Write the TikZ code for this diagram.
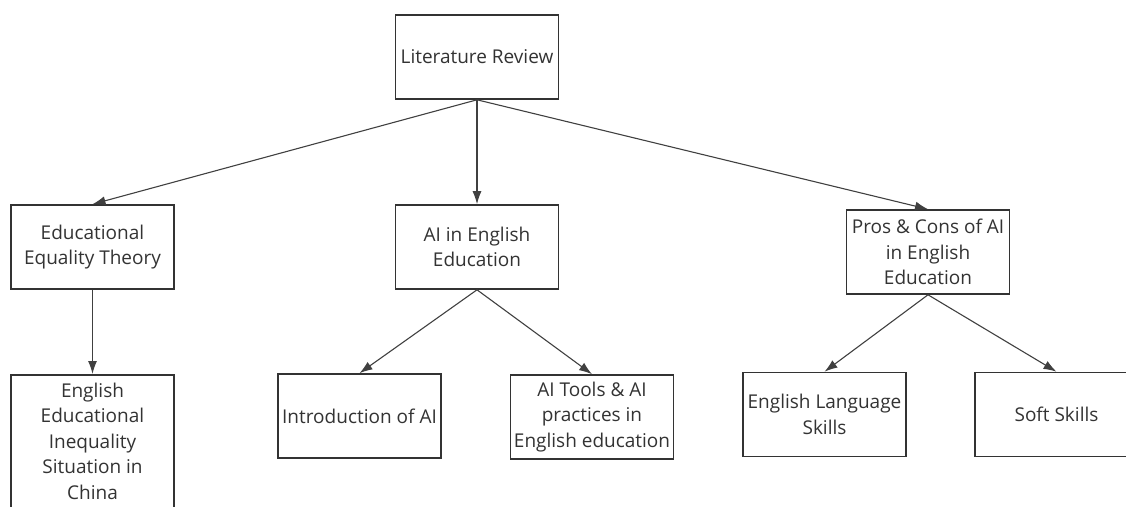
\documentclass[tikz,border=0pt]{standalone}
\usepackage{fontspec}
\setmainfont{Open Sans}
\usetikzlibrary{arrows,arrows.meta,shapes.geometric}

\begin{document}
\begin{tikzpicture}[x=1pt,y=-1pt]
\tikzstyle{block} = [rectangle, draw=black!80, line width=1.6pt, fill=white,
text=black!80, align=center, minimum width=163pt, minimum height=84pt,
font=\fontsize{19}{25.5}\selectfont]
\tikzstyle{line} = [draw, black!75, line width=1.1pt, -{Latex[length=13pt,width=9pt]}];
\useasboundingbox (0,0) rectangle (1126,506);
% top
\node [block] (review) at (477,57) {Literature Review};
% row 2
\node [block] (equality) at (92.5,247) {Educational\\Equality Theory};
\node [block] (aienglish) at (477,247) {AI in English\\Education};
\node [block] (proscons) at (928,252) {Pros \& Cons of AI\\in English\\Education};
% row 3
\node [block, anchor=north, inner ysep=8pt] (inequality) at (92.5,374)
  {English\\Educational\\Inequality\\Situation in\\China\\[4pt]};
\node [block] (intro) at (359.5,416) {Introduction of AI};
\node [block] (tools) at (592,417) {AI Tools \& AI\\practices in\\English education};
\node [block] (language) at (824.5,414.5) {English Language\\Skills};
\node [block] (soft) at (1056.5,414.5) {Soft Skills};
\tikzstyle{every path}=[line]
\path (review.south) -- (equality.north);
\path (review.south) -- (aienglish.north);
\path (review.south) -- (proscons.north);
\path (equality) -- (inequality);
\path (aienglish.south) -- (intro.north);
\path (aienglish.south) -- (tools.north);
\path (proscons.south) -- (language.north);
\path (proscons.south) -- (soft.north);
\end{tikzpicture}
\end{document}
